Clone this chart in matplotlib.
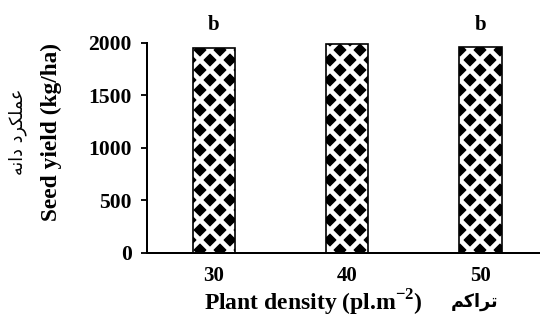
import numpy as np
import matplotlib
matplotlib.use("Agg")
import matplotlib.pyplot as plt

# data
densities = ["30", "40", "50"]
seed_yield = [1950, 1995, 1960]
letters = ["b", "", "b"]

# persian labels written in shaped presentation forms, visual order
ylabel_fa = "\ufeea\ufee7\ufe8d\ufea9 \ufea9\ufeae\ufb91\ufee0\ufee4\ufecb"
xlabel_fa = "\ufee2\ufb90\ufe8d\ufeae\ufe97"

plt.rcParams["font.family"] = ["Liberation Serif", "DejaVu Sans"]
plt.rcParams["font.weight"] = "bold"
plt.rcParams["mathtext.fontset"] = "custom"
plt.rcParams["mathtext.rm"] = "Liberation Serif:bold"
plt.rcParams["mathtext.bf"] = "Liberation Serif:bold"
plt.rcParams["hatch.linewidth"] = 2.8

DPI = 120
fig = plt.figure(figsize=(540 / DPI, 322 / DPI), dpi=DPI)
ax = fig.add_axes([0.272, 0.2143, 0.728, 0.6522])

x = np.arange(len(densities))
# black bars with white diagonal hatch, then black outline on top
ax.bar(x, seed_yield, width=0.315, color="black", edgecolor="white",
       linewidth=0, hatch="xx", zorder=2)
ax.bar(x, seed_yield, width=0.315, fill=False, edgecolor="black",
       linewidth=1.0, zorder=3)

for xi, t in zip(x, letters):
    ax.text(xi, 2125, t, ha="center", va="baseline", fontsize=12.5,
            fontweight="bold")

ax.set_xlim(-0.5, 2.446)
ax.set_ylim(0, 2000)
ax.set_yticks([0, 500, 1000, 1500, 2000])
ax.set_xticks(x)
ax.set_xticklabels(densities)
ax.tick_params(axis="y", direction="out", length=3.6, width=1.1,
               labelsize=13, pad=5.5)
ax.tick_params(axis="x", length=0, labelsize=12.5, pad=8)
for lab in ax.get_xticklabels() + ax.get_yticklabels():
    lab.set_fontweight("bold")

for s in ["top", "right"]:
    ax.spines[s].set_visible(False)
ax.spines["left"].set_linewidth(1.2)
ax.spines["bottom"].set_linewidth(1.2)

fig.text(0.581, 0.058, r"Plant density (pl.m$^{-2}$)", ha="center",
         va="center", fontsize=14.2, fontweight="bold")
fig.text(0.878, 0.062, xlabel_fa, ha="center", va="center", fontsize=10.5,
         fontweight="bold", family=["DejaVu Sans"])
fig.text(0.096, 0.59, "Seed yield (kg/ha)", rotation=90, ha="center",
         va="center", fontsize=14, fontweight="bold")
fig.text(0.033, 0.59, ylabel_fa, rotation=90, ha="center", va="center",
         fontsize=10.5, fontweight="normal", family=["DejaVu Sans"])

fig.savefig("out.png", dpi=DPI)
